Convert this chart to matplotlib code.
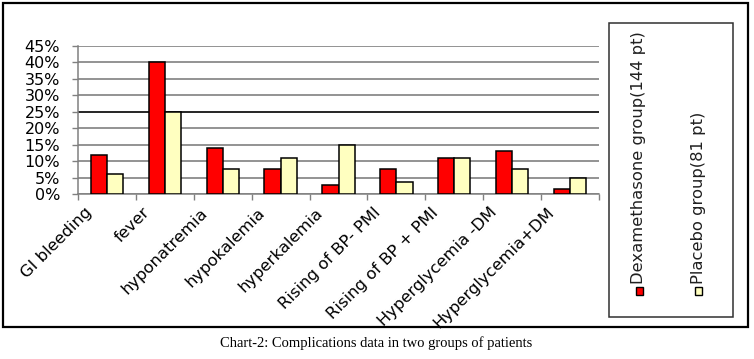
import numpy as np
import matplotlib
matplotlib.use("Agg")
import matplotlib.pyplot as plt
from matplotlib.patches import Rectangle
from matplotlib.ticker import PercentFormatter
from matplotlib.transforms import ScaledTranslation

categories = ["GI bleeding", "fever", "hyponatremia", "hypokalemia", "hyperkalemia",
              "Rising of BP- PMI", "Rising of BP + PMI", "Hyperglycemia -DM",
              "Hyperglycemia+DM"]
dexamethasone = [12, 40, 14, 7.5, 2.8, 7.5, 11, 13, 1.4]
placebo = [6, 25, 7.5, 11, 15, 3.6, 11, 7.5, 5]
series_names = ["Dexamethasone group(144 pt)", "Placebo group(81 pt)"]
yticks = [0, 5, 10, 15, 20, 25, 30, 35, 40, 45]
caption = "Chart-2: Complications data in two groups of patients"

W, H = 754, 359
fig = plt.figure(figsize=(W / 100, H / 100), dpi=100)
fig.patch.set_facecolor("white")

def fx(px):
    return px / W

def fy(py):
    return (H - py) / H

ax = fig.add_axes([fx(78), fy(194), fx(599) - fx(78), fy(46) - fy(194)])
n = len(categories)
centers = np.arange(n) + 0.5
bw = 0.28
ax.bar(centers - bw / 2, dexamethasone, bw, color="#FF0000", edgecolor="black",
       linewidth=1.1, zorder=3)
ax.bar(centers + bw / 2, placebo, bw, color="#FFFFC0", edgecolor="black",
       linewidth=1.1, zorder=3)

ax.set_xlim(0, n)
ax.set_ylim(0, 45)
ax.set_yticks(yticks)
ax.yaxis.set_major_formatter(PercentFormatter(decimals=0))
ax.set_xticks(np.arange(n + 1))
ax.set_xticklabels([])
ax.tick_params(axis="x", direction="out", length=4, color="#808080", width=1)
ax.tick_params(axis="y", direction="out", length=4, color="#808080", width=1,
               pad=9, labelsize=11.5)
for lab in ax.get_yticklabels():
    lab.set_fontfamily("DejaVu Sans")

ax.yaxis.grid(True, color="#808080", linewidth=1.2, zorder=0)
ax.set_axisbelow(True)
gl = ax.get_ygridlines()
if len(gl) > 5:
    gl[5].set_color("black")
for s in ["top", "right"]:
    ax.spines[s].set_visible(False)
ax.spines["left"].set_color("#808080")
ax.spines["bottom"].set_color("#808080")
ax.spines["left"].set_linewidth(1.1)
ax.spines["bottom"].set_linewidth(1.1)

# rotated category labels
trans = ax.get_xaxis_transform()
for i, cat in enumerate(categories):
    off = ScaledTranslation(0, -11 / 100, fig.dpi_scale_trans)
    ax.text(i + 0.1, 0, cat, transform=trans + off, rotation=45,
            rotation_mode="anchor", ha="right", va="top", fontsize=11.8,
            color="black")

# legend box
fig.patches.append(Rectangle((fx(609), fy(317)), fx(733) - fx(609), fy(23) - fy(317),
                             transform=fig.transFigure, fill=False,
                             edgecolor="#303030", linewidth=1.1))
leg_colors = ["#FF0000", "#FFFFC0"]
leg_x = [639, 698]
for name, col, lx in zip(series_names, leg_colors, leg_x):
    fig.patches.append(Rectangle((fx(lx - 3.5), fy(295)), fx(7), 8 / H,
                                 transform=fig.transFigure, facecolor=col,
                                 edgecolor="black", linewidth=1.0))
    fig.text(fx(lx), fy(284), name, rotation=90, rotation_mode="anchor",
             ha="left", va="center", fontsize=11.8, color="#202020")

# outer frame
fig.patches.append(Rectangle((fx(3), fy(327)), fx(748) - fx(3), fy(3) - fy(327),
                             transform=fig.transFigure, fill=False,
                             edgecolor="black", linewidth=1.6))

fig.text(fx(376), fy(343), caption, ha="center", va="center",
         fontsize=10.5, family="Liberation Serif", color="black")

fig.savefig("out.png", dpi=100)
